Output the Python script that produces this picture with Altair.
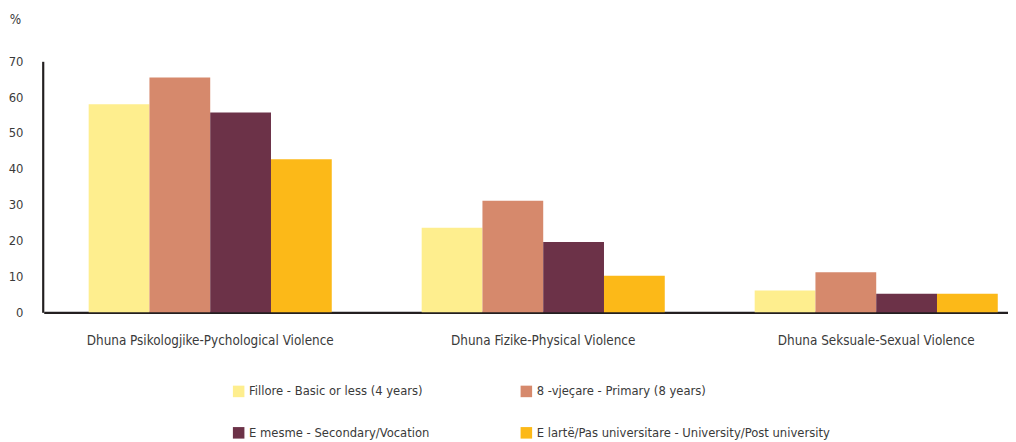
import altair as alt
import pandas as pd

categories = [
    "Dhuna Psikologjike-Pychological Violence",
    "Dhuna Fizike-Physical Violence",
    "Dhuna Seksuale-Sexual Violence",
]
series = [
    "Fillore - Basic or less (4 years)",
    "8 -vjeçare - Primary (8 years)",
    "E mesme - Secondary/Vocation",
    "E lartë/Pas universitare - University/Post university",
]
basic = [58.0, 23.6, 6.1]
primary = [65.5, 31.1, 11.2]
secondary = [55.7, 19.6, 5.2]
university = [42.7, 10.2, 5.2]
colors = ["#FEEE8E", "#D6896C", "#6C3248", "#FCB918"]
y_ticks = [0, 10, 20, 30, 40, 50, 60, 70]

rows = []
for s, vals in zip(series, [basic, primary, secondary, university]):
    for c, v in zip(categories, vals):
        rows.append({"category": c, "series": s, "value": v})
df = pd.DataFrame(rows)

# legend is laid out column by column, so order it to read row-wise like the reference
legend_order = [series[0], series[2], series[1], series[3]]
legend_colors = [colors[0], colors[2], colors[1], colors[3]]

FONT = "'DejaVu Sans Condensed', 'Liberation Sans Narrow', 'Roboto Condensed', sans-serif"
TXT = "#3a3a3a"

chart = (
    alt.Chart(df)
    .mark_bar()
    .encode(
        x=alt.X(
            "category:N",
            sort=categories,
            scale=alt.Scale(range=[1, 1008], paddingInner=0.27, paddingOuter=0.135),
            axis=alt.Axis(
                title=None,
                labelAngle=0,
                ticks=False,
                tickSize=0,
                labelPadding=21,
                domainColor="#231f20",
                domainWidth=2.2,
                labelFont=FONT,
                labelFontSize=13.5,
                labelColor=TXT,
                labelLimit=0,
            ),
        ),
        xOffset=alt.XOffset("series:N", sort=series, scale=alt.Scale(paddingInner=0)),
        y=alt.Y(
            "value:Q",
            scale=alt.Scale(domain=[0, 70], nice=False),
            axis=alt.Axis(
                title="%",
                titleAngle=0,
                titleX=-28,
                titleY=-42,
                titleAlign="center",
                titleBaseline="middle",
                titleFont=FONT,
                titleFontSize=13.5,
                titleFontWeight="normal",
                titleColor=TXT,
                values=y_ticks,
                grid=False,
                ticks=False,
                tickSize=0,
                labelPadding=20,
                domainColor="#231f20",
                domainWidth=2.2,
                labelFont=FONT,
                labelFontSize=13,
                labelColor=TXT,
            ),
        ),
        color=alt.Color(
            "series:N",
            scale=alt.Scale(domain=legend_order, range=legend_colors),
            legend=alt.Legend(
                title=None,
                orient="none",
                legendX=191,
                legendY=326,
                columns=2,
                columnPadding=90,
                rowPadding=28,
                symbolType="square",
                symbolSize=135,
                symbolStrokeWidth=0,
                symbolOpacity=1,
                labelFont=FONT,
                labelFontSize=13,
                labelColor=TXT,
                labelOffset=4,
                labelLimit=0,
                padding=0,
            ),
        ),
    )
    .properties(
        width=973,
        height=253,
        autosize=alt.AutoSizeParams(type="none"),
        padding={"left": 35, "top": 52, "right": 0, "bottom": 129},
    )
    .configure_view(stroke=None)
)

chart.save("out.html", embed_options={"renderer": "svg", "actions": False})
